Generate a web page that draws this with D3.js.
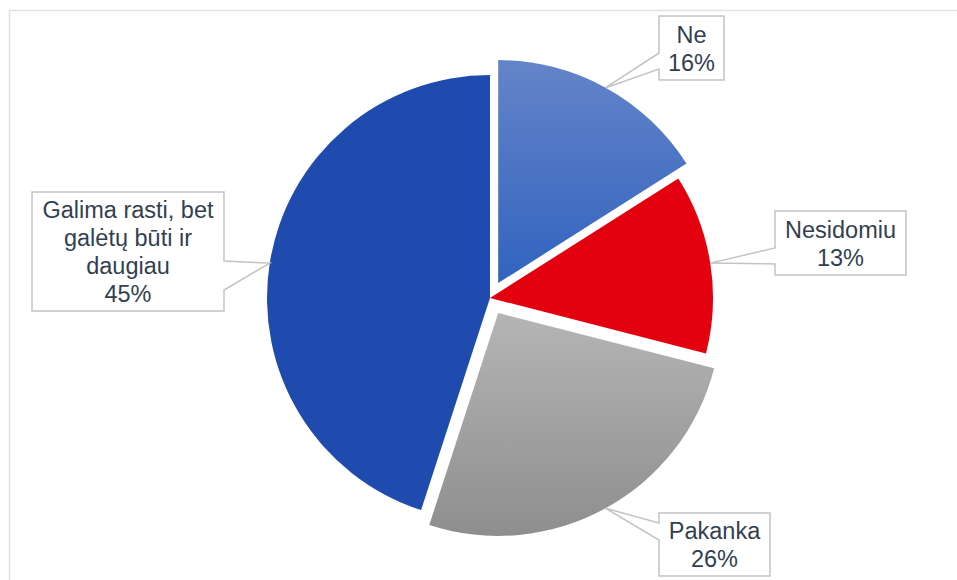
<!DOCTYPE html>
<html>
<head>
<meta charset="utf-8">
<script src="https://cdn.jsdelivr.net/npm/d3@7"></script>
<style>
  html, body { margin: 0; padding: 0; background: #fff; }
  svg { display: block; }
  text { font-family: "Liberation Sans", Arial, sans-serif; }
</style>
</head>
<body>
<svg id="chart" width="957" height="580"></svg>
<script>
// Survey answers, clockwise from 12 o'clock
const categories = ["Ne", "Nesidomiu", "Pakanka", "Galima rasti, bet galėtų būti ir daugiau"];
const values = [16, 13, 26, 45];
const labelLines = [
  ["Ne"],
  ["Nesidomiu"],
  ["Pakanka"],
  ["Galima rasti, bet", "galėtų būti ir", "daugiau"]
];

// Styling and placement of each slice and its callout
const fills = ["url(#gradBlue)", "#e3000f", "url(#gradGray)", "#1f4bae"];
const explode = [17, 0, 17, 0];
// box: [x, y, w, h]; side of the wedge and the span of its base on that side
const callouts = [
  { box: [659, 16, 65, 64],   side: "left",  base: [37, 53] },
  { box: [775, 211, 131, 64], side: "left",  base: [37, 53] },
  { box: [659, 513, 111, 63], side: "left",  base: [10, 27] },
  { box: [32, 192, 192, 119], side: "right", base: [69, 98] }
];

const W = 957, H = 580;
const cx = 490, cy = 298, R = 223;
const lineH = 28;

const svg = d3.select("#chart");

// chart area frame
svg.append("rect")
  .attr("x", 9.5).attr("y", 10.5)
  .attr("width", W + 20).attr("height", H + 20)
  .attr("fill", "none")
  .attr("stroke", "#dde1e8")
  .attr("stroke-width", 1.5);

const defs = svg.append("defs");
function vGrad(id, top, bottom) {
  const g = defs.append("linearGradient")
    .attr("id", id).attr("x1", 0).attr("y1", 0).attr("x2", 0).attr("y2", 1);
  g.append("stop").attr("offset", "0%").attr("stop-color", top);
  g.append("stop").attr("offset", "100%").attr("stop-color", bottom);
}
vGrad("gradBlue", "#6484c9", "#3263bf");
vGrad("gradGray", "#b5b5b5", "#8e8e8e");

const pie = d3.pie().sort(null).value(d => d).startAngle(0).endAngle(2 * Math.PI);
const arcs = pie(values);
const arc = d3.arc().innerRadius(0).outerRadius(R);

const slices = arcs.map((a, i) => {
  const mid = (a.startAngle + a.endAngle) / 2;
  const dx = Math.sin(mid), dy = -Math.cos(mid);
  const ox = cx + dx * explode[i], oy = cy + dy * explode[i];
  return { a, i, mid, ox, oy, tip: [ox + dx * R, oy + dy * R] };
});

svg.append("g").selectAll("path")
  .data(slices)
  .join("path")
  .attr("transform", d => `translate(${d.ox},${d.oy})`)
  .attr("d", d => arc(d.a))
  .attr("fill", d => fills[d.i]);

// callout boxes with a wedge pointing at each slice
const lab = svg.append("g");
slices.forEach(s => {
  const c = callouts[s.i];
  const [x, y, w, h] = c.box;
  const [b0, b1] = c.base;
  const [tx, ty] = s.tip;
  let pts;
  if (c.side === "left") {
    pts = [[x + w, y], [x + w, y + h], [x, y + h], [x, y + b1], [tx, ty], [x, y + b0], [x, y]];
  } else {
    pts = [[x, y], [x + w, y], [x + w, y + b0], [tx, ty], [x + w, y + b1], [x + w, y + h], [x, y + h]];
  }
  lab.append("path")
    .attr("d", d3.line()(pts) + "Z")
    .attr("fill", "#fff")
    .attr("stroke", "#c3c3c3")
    .attr("stroke-width", 1.5)
    .attr("stroke-linejoin", "miter");

  const lines = labelLines[s.i].concat([values[s.i] + "%"]);
  const midY = y + h / 2;
  const n = lines.length;
  const t = lab.append("text")
    .attr("text-anchor", "middle")
    .attr("font-size", 23.5)
    .attr("fill", "#333f50");
  lines.forEach((ln, k) => {
    t.append("tspan")
      .attr("x", x + w / 2)
      .attr("y", midY + (k - (n - 1) / 2) * lineH + 8.5)
      .text(ln);
  });
});
</script>
</body>
</html>
